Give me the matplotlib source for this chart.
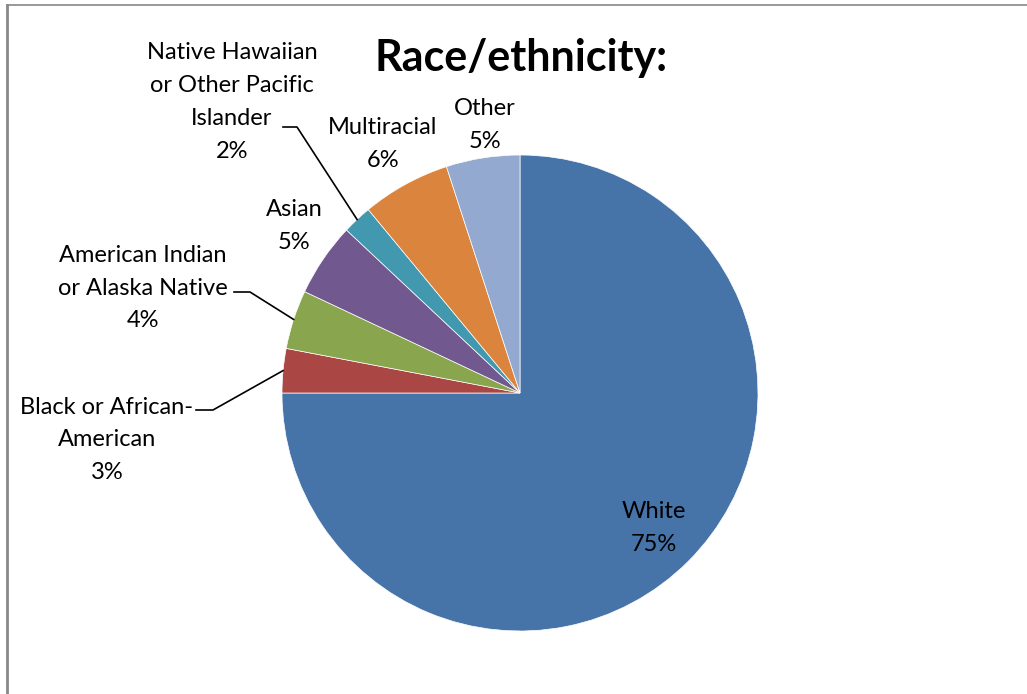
import numpy as np
import matplotlib.pyplot as plt
from matplotlib.lines import Line2D

plt.rcParams['font.family'] = ['Lato', 'DejaVu Sans']

labels = ['White', 'Black or African-\nAmerican', 'American Indian\nor Alaska Native',
          'Asian', 'Native Hawaiian\nor Other Pacific\nIslander', 'Multiracial', 'Other']
values = [75, 3, 4, 5, 2, 6, 5]
colors = ['#4673A8', '#AA4643', '#89A54E', '#71588F', '#4198AF', '#DB843D', '#93A9CF']

# label centres (pixels, from top-left) and leader elbows
label_pos = [(654, 528), (107, 440), (143, 288), (294, 226), (232, 102), (383, 144), (485, 125)]
leaders = {1: [(196, 410), (213, 410)], 2: [(234, 292), (250, 292)], 4: [(283, 127), (297, 127)]}

W, H = 1027, 694
fig = plt.figure(figsize=(W / 100, H / 100), dpi=100)
ax = fig.add_axes([0, 0, 1, 1])

cx, cy, r = 520, H - 393, 238
wedges, _ = ax.pie(values, colors=colors, startangle=90, counterclock=False,
                   center=(cx, cy), radius=r, frame=True,
                   wedgeprops=dict(edgecolor='white', linewidth=0.5))
ax.set_xlim(0, W)
ax.set_ylim(0, H)
ax.set_aspect('equal')
ax.axis('off')

for i, (lab, v) in enumerate(zip(labels, values)):
    x, y = label_pos[i]
    ax.text(x, H - y, f'{lab}\n{v}%', ha='center', va='center', fontsize=17,
            linespacing=1.7, color='black')
    if i in leaders:
        w = wedges[i]
        th = np.deg2rad((w.theta1 + w.theta2) / 2)
        ex, ey = cx + r * np.cos(th), cy + r * np.sin(th)
        pts = leaders[i]
        xs = [p[0] for p in pts] + [ex]
        ys = [H - p[1] for p in pts] + [ey]
        ax.plot(xs, ys, color='black', lw=1.2)

ax.text(521, H - 58, 'Race/ethnicity:', ha='center', va='center', fontsize=31,
        fontweight='bold')

# frame edges
fig.add_artist(Line2D([7 / W, 7 / W], [0, 1 - 5 / H], transform=fig.transFigure,
                      color='#888888', lw=2))
fig.add_artist(Line2D([7 / W, 1], [1 - 5 / H, 1 - 5 / H], transform=fig.transFigure,
                      color='#888888', lw=1.2))

fig.savefig('out.png', dpi=100)
